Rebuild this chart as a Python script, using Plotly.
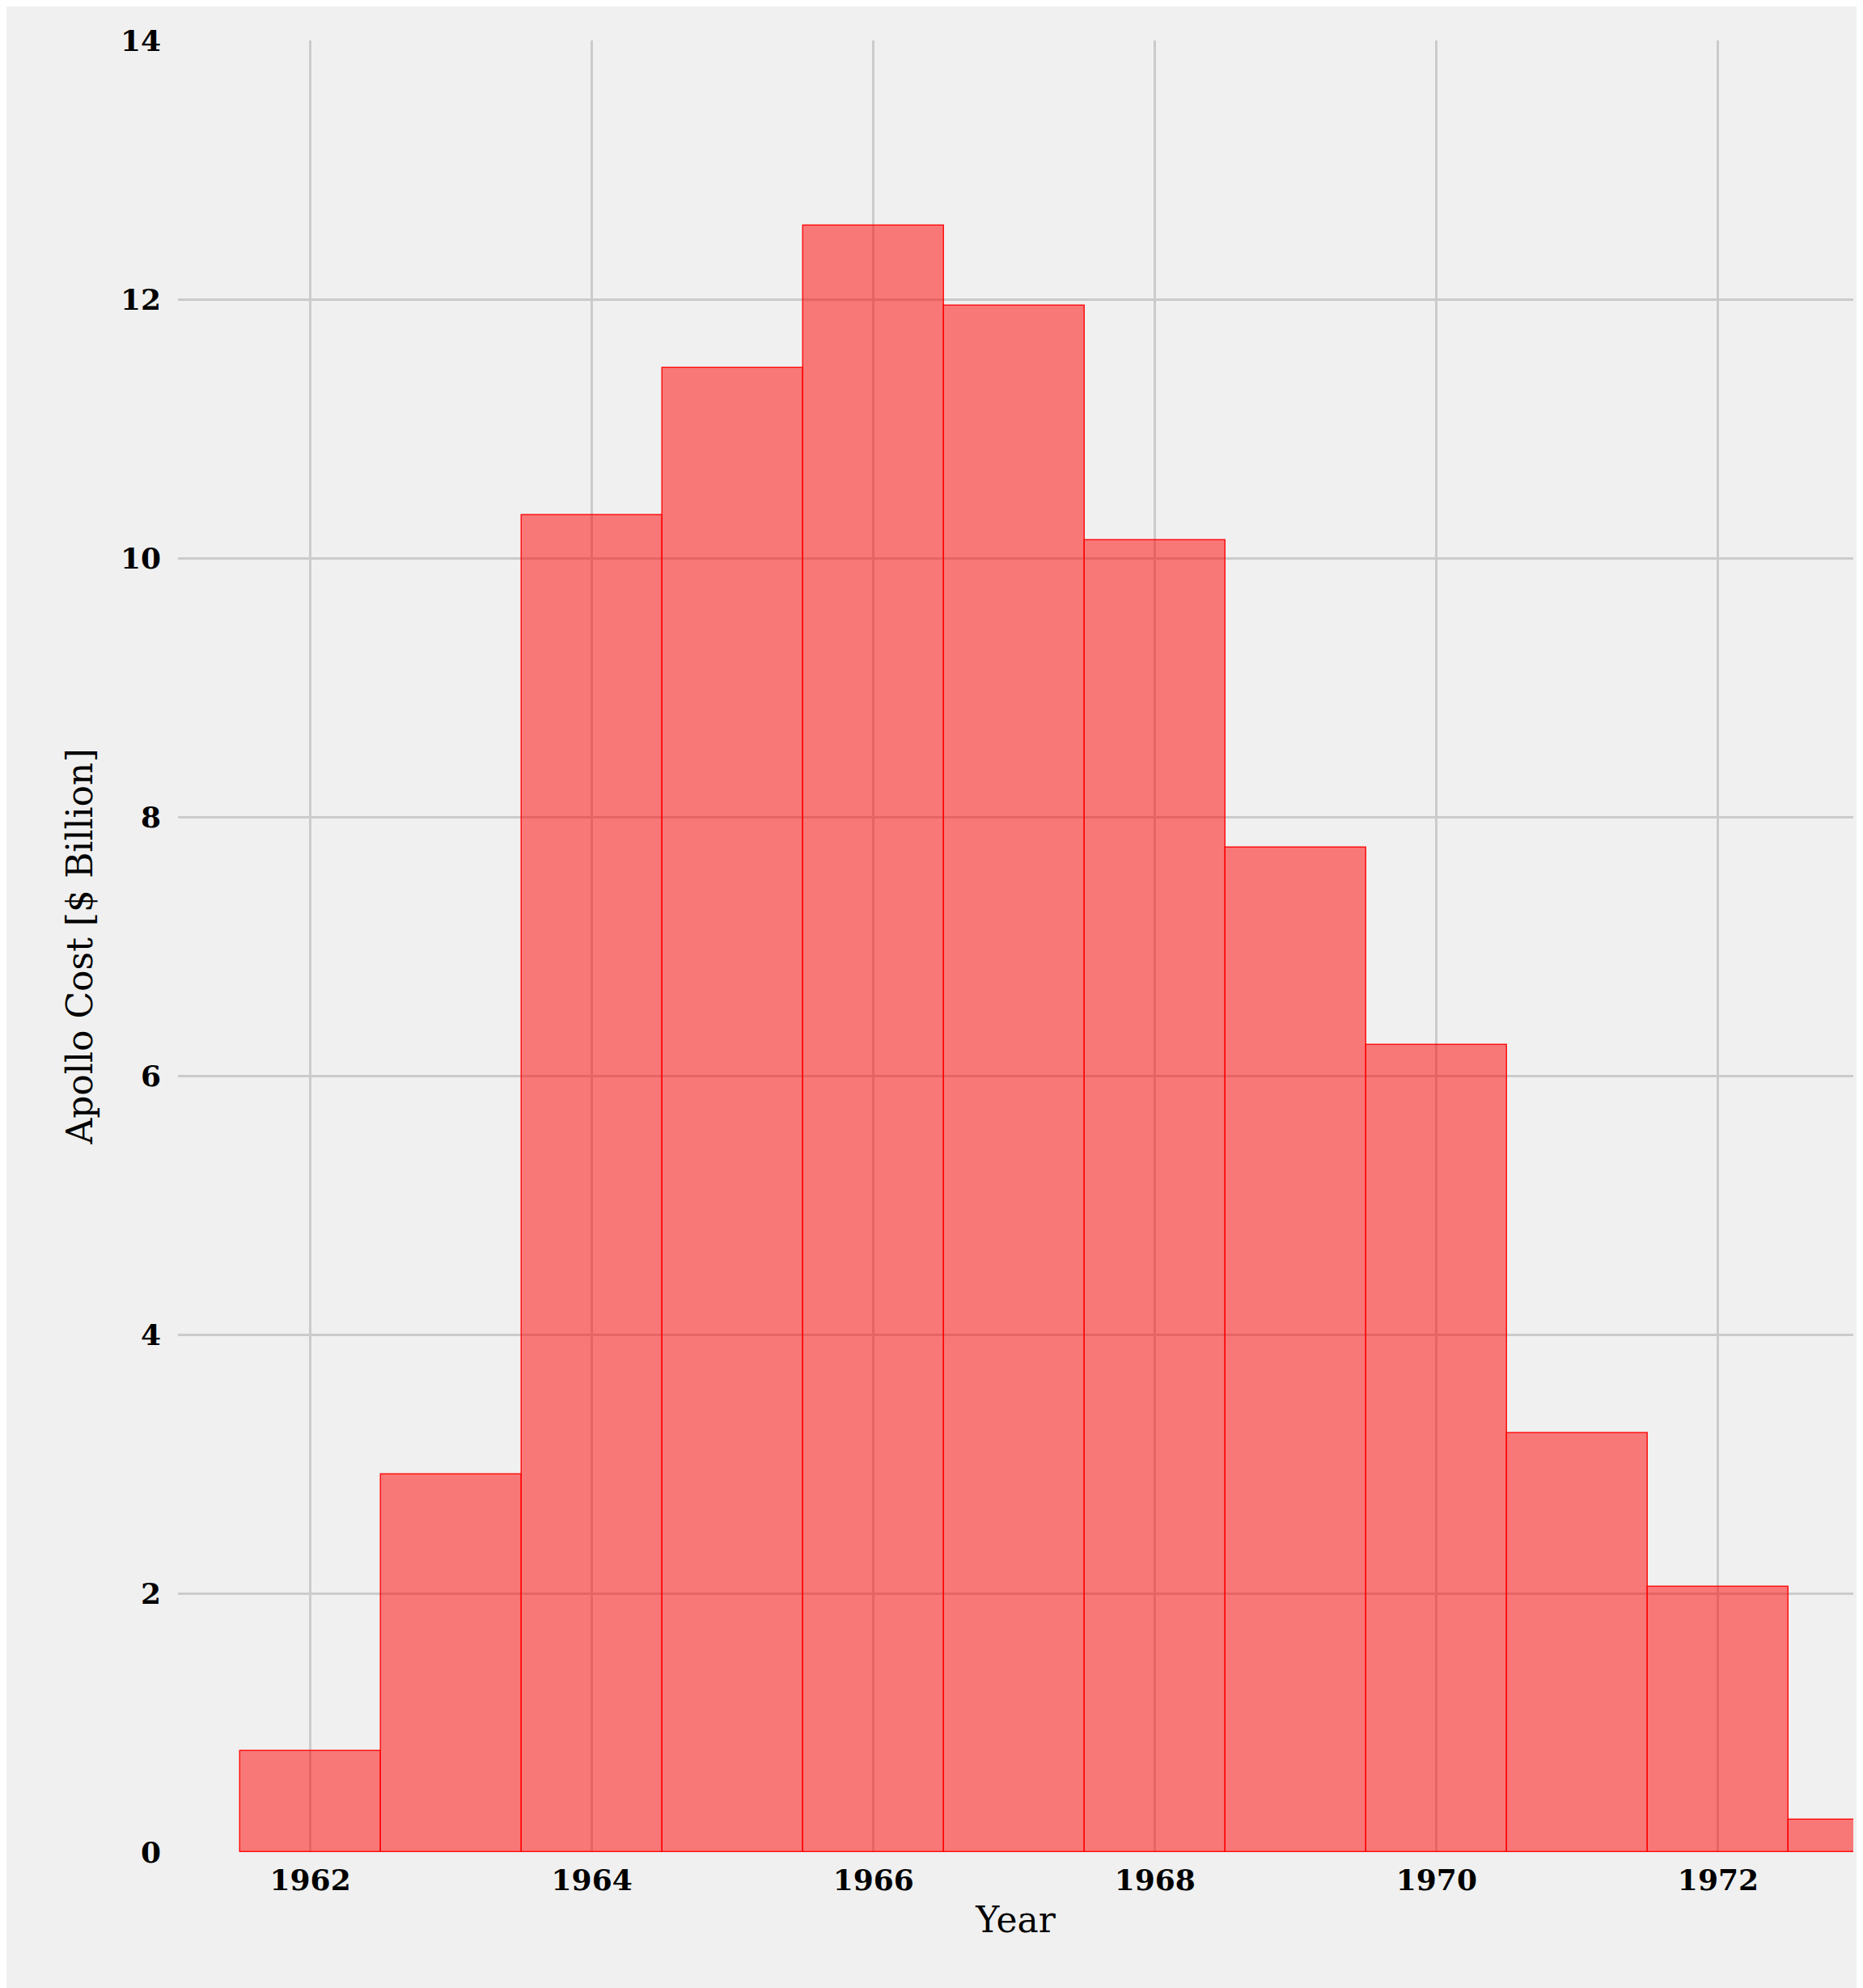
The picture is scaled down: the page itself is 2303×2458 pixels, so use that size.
import plotly.graph_objects as go

# Apollo program cost per year
years = [1962, 1963, 1964, 1965, 1966, 1967, 1968, 1969, 1970, 1971, 1972, 1973]
cost = [0.78, 2.92, 10.33, 11.47, 12.57, 11.95, 10.14, 7.76, 6.24, 3.24, 2.05, 0.25]
xticks = [1962, 1964, 1966, 1968, 1970, 1972]
yticks = [0, 2, 4, 6, 8, 10, 12, 14]

fig = go.Figure(go.Bar(
    x=years, y=cost, width=1.0,
    marker=dict(color="rgba(255,0,0,0.5)", line=dict(color="rgba(255,0,0,0.9)", width=1.5)),
))

font = "DejaVu Serif"
fig.update_layout(
    width=2303, height=2458,
    margin=dict(l=212, r=20, t=42, b=176),
    paper_bgcolor="#f0f0f0", plot_bgcolor="#f0f0f0",
    showlegend=False, bargap=0,
    font=dict(family=font, color="black"),
)
fig.update_xaxes(
    range=[1961.06, 1972.96], tickvals=xticks,
    ticktext=["<b>%d</b>" % t for t in xticks],
    tickfont=dict(size=36), showgrid=True, gridcolor="#cbcbcb", gridwidth=3,
    zeroline=False, showline=False, ticks="", ticklabelstandoff=10,
    title=dict(text="Year", font=dict(size=44), standoff=14),
)
fig.update_yaxes(
    range=[0, 14], tickvals=yticks,
    ticktext=["<b>%d</b>" % t for t in yticks],
    tickfont=dict(size=36), showgrid=True, gridcolor="#cbcbcb", gridwidth=3,
    zeroline=False, showline=False, ticks="", ticklabelstandoff=20,
    title=dict(text="Apollo Cost [$ Billion]", font=dict(size=44), standoff=20),
)
fig.write_html("out.html")
